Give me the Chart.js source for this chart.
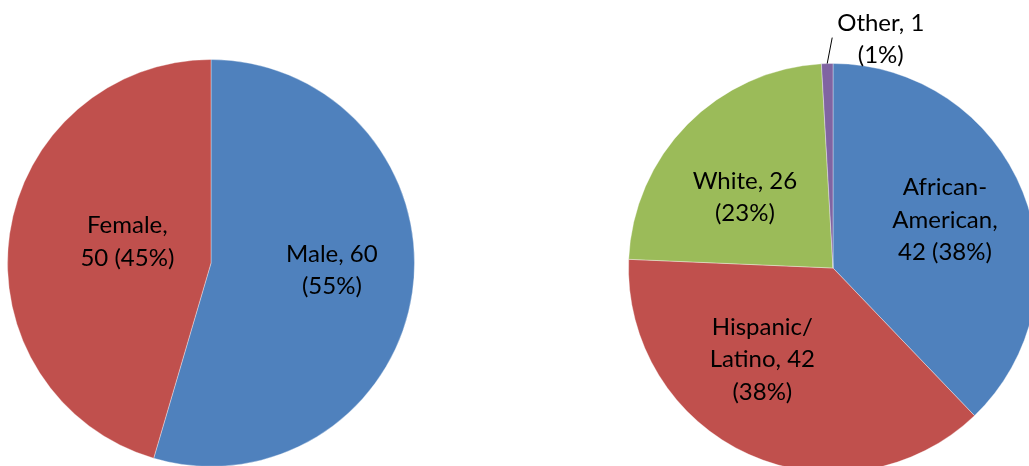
<!DOCTYPE html>
<html>
<head>
<meta charset="utf-8">
<script src="https://cdn.jsdelivr.net/npm/chart.js@4/dist/chart.umd.min.js"></script>
<style>
  html, body { margin: 0; padding: 0; background: #fff; }
  body { width: 1029px; height: 466px; overflow: hidden; position: relative; }
  canvas { position: absolute; }
  #gender-chart { left: 0; top: 0; }
  #race-chart { left: 520px; top: 0; }
</style>
</head>
<body>
<canvas id="gender-chart" width="500" height="500"></canvas>
<canvas id="race-chart" width="560" height="520"></canvas>
<script>
// 性别分布
const genderLabels = ['Male', 'Female'];
const genderCounts = [60, 50];
const genderColors = ['#4F81BD', '#C0504D'];

// 族裔分布
const raceLabels = ['African-American', 'Hispanic/Latino', 'White', 'Other'];
const raceCounts = [42, 42, 26, 1];
const raceColors = ['#4F81BD', '#C0504D', '#9BBB59', '#8064A2'];

const LABEL_FONT = '24px Lato';
const LINE_HEIGHT = 32.5;
const WRAP_WIDTH = 110;

// 按宽度换行，可在空格、连字符、斜杠后断开
function wrapText(ctx, text, maxWidth) {
  const tokens = text.match(/[^\s\-\/]+[\-\/]?\s*/g) || [text];
  const lines = [];
  let line = '';
  tokens.forEach(tok => {
    const test = line + tok;
    if (line && ctx.measureText(test.trimEnd()).width > maxWidth) {
      lines.push(line.trimEnd());
      line = tok;
    } else {
      line = test;
    }
  });
  if (line) lines.push(line.trimEnd());
  return lines;
}

// 扇区标签插件：名称, 数值 (百分比)
const sliceLabels = {
  id: 'sliceLabels',
  afterDatasetsDraw(chart, args, opts) {
    const ctx = chart.ctx;
    const ds = chart.data.datasets[0];
    const total = ds.data.reduce((a, b) => a + b, 0);
    const meta = chart.getDatasetMeta(0);
    ctx.save();
    ctx.font = LABEL_FONT;
    ctx.fillStyle = '#000';
    ctx.textAlign = 'center';
    ctx.textBaseline = 'middle';
    meta.data.forEach((arc, i) => {
      const value = ds.data[i];
      const pct = Math.round(value / total * 100);
      const text = `${chart.data.labels[i]}, ${value} (${pct}%)`;
      const lines = wrapText(ctx, text, WRAP_WIDTH);
      const { x, y, startAngle, endAngle, outerRadius } = arc.getProps(['x', 'y', 'startAngle', 'endAngle', 'outerRadius'], true);
      const mid = (startAngle + endAngle) / 2;
      const place = (opts.placement || [])[i] || [0.57, 0, 0];
      let cx, cy;
      if (place[0] > 1) {
        // 小扇区：外部标签加引导线
        const ex = x + Math.cos(mid) * outerRadius;
        const ey = y + Math.sin(mid) * outerRadius;
        const lx = ex + place[1];
        const ly = ey + place[2];
        ctx.strokeStyle = '#000';
        ctx.lineWidth = 1;
        ctx.beginPath();
        ctx.moveTo(ex, ey);
        ctx.lineTo(lx, ly);
        ctx.stroke();
        const w = Math.max(...lines.map(l => ctx.measureText(l).width));
        cx = lx + 5 + w / 2;
        cy = ly + 1.5;
      } else {
        const r = outerRadius * place[0];
        cx = x + Math.cos(mid) * r + place[1];
        cy = y + Math.sin(mid) * r + place[2];
      }
      const top = cy - (lines.length - 1) * LINE_HEIGHT / 2;
      lines.forEach((l, k) => ctx.fillText(l, cx, top + k * LINE_HEIGHT));
    });
    ctx.restore();
  }
};

function makePie(id, labels, counts, colors, padding, placement) {
  const ctx = document.getElementById(id).getContext('2d');
  return new Chart(ctx, {
    type: 'pie',
    data: {
      labels: labels,
      datasets: [{
        data: counts,
        backgroundColor: colors,
        borderColor: 'rgba(255,255,255,0.35)',
        borderWidth: 1
      }]
    },
    options: {
      responsive: false,
      animation: false,
      layout: { padding: padding },
      plugins: {
        legend: { display: false },
        tooltip: { enabled: false },
        sliceLabels: { placement: placement }
      }
    },
    plugins: [sliceLabels]
  });
}

document.fonts.load(LABEL_FONT).finally(() => {
  makePie('gender-chart', genderLabels, genderCounts, genderColors,
    { left: 7, top: 59, right: 85, bottom: 33 },
    [[0.59, 2, -10], [0.43, 3, -9]]);

  makePie('race-chart', raceLabels, raceCounts, raceColors,
    { left: 108, top: 63, right: 42, bottom: 47 },
    [[0.59, 0, -3], [0.566, -23, -14], [0.55, -8, 8], [2, 5, -26]]);
});
</script>
</body>
</html>
